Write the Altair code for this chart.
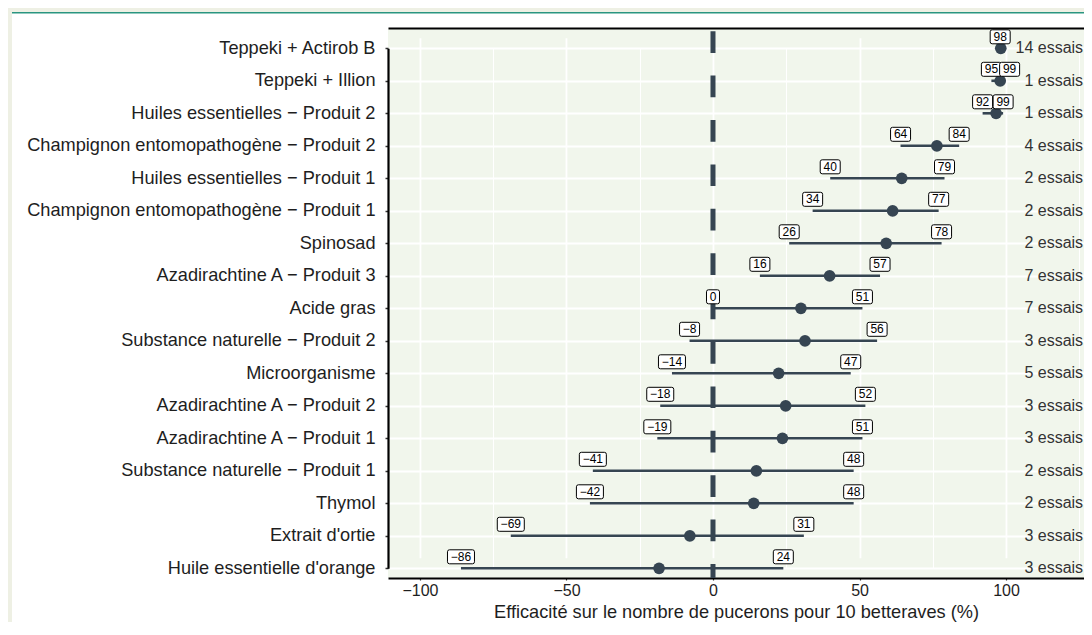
import altair as alt
import pandas as pd

traitements = [
    "Teppeki + Actirob B",
    "Teppeki + Illion",
    "Huiles essentielles − Produit 2",
    "Champignon entomopathogène − Produit 2",
    "Huiles essentielles − Produit 1",
    "Champignon entomopathogène − Produit 1",
    "Spinosad",
    "Azadirachtine A − Produit 3",
    "Acide gras",
    "Substance naturelle − Produit 2",
    "Microorganisme",
    "Azadirachtine A − Produit 2",
    "Azadirachtine A − Produit 1",
    "Substance naturelle − Produit 1",
    "Thymol",
    "Extrait d'ortie",
    "Huile essentielle d'orange",
]
moyenne = [98.2, 98.0, 96.6, 76.4, 64.4, 61.3, 59.1, 39.8, 30.0, 31.4, 22.4, 24.8, 23.7, 14.8, 13.9, -7.9, -18.4]
borne_basse = [98, 95, 92, 64, 40, 34, 26, 16, 0, -8, -14, -18, -19, -41, -42, -69, -86]
borne_haute = [98, 99, 99, 84, 79, 77, 78, 57, 51, 56, 47, 52, 51, 48, 48, 31, 24]
essais = [14, 1, 1, 4, 2, 2, 2, 7, 7, 3, 5, 3, 3, 2, 2, 3, 3]
x_ticks = [-100, -50, 0, 50, 100]
x_minor = [-75, -25, 25, 75, 125]
x_titre = "Efficacité sur le nombre de pucerons pour 10 betteraves (%)"

df = pd.DataFrame({
    "traitement": traitements,
    "moyenne": moyenne,
    "basse": borne_basse,
    "haute": borne_haute,
    "essais": essais,
})
zero_df = pd.DataFrame({"zero": [0]})

W, H = 696, 550
PL, PT, PB = 380, 20, 44
C = "#364552"
FONT = "Liberation Sans"
TXT = "#1e1e1e"

x_scale = alt.Scale(domain=[-110.9, 126.6], nice=False, zero=False)
y_enc = alt.Y(
    "traitement:N",
    sort=traitements,
    scale=alt.Scale(type="point", range=[20.3, 540.3], padding=0),
    title=None,
    axis=alt.Axis(
        domainColor="black", domainWidth=2.2,
        tickColor="#333333", tickSize=3, tickWidth=1.5,
        grid=True, gridColor="white", gridWidth=2,
        labelFont=FONT, labelFontSize=18.2, labelColor=TXT,
        labelPadding=10, labelLimit=500,
    ),
)


def box(h, v=7.0, r=2.0):
    return (f"M{-h + r},{-v}H{h - r}Q{h},{-v} {h},{-v + r}V{v - r}Q{h},{v} {h - r},{v}"
            f"H{-h + r}Q{-h},{v} {-h},{v - r}V{-v + r}Q{-h},{-v} {-h + r},{-v}Z")


base = alt.Chart(df)

barres = base.mark_rule(color=C, strokeWidth=2.6).encode(
    x=alt.X(
        "basse:Q", scale=x_scale, title=x_titre,
        axis=alt.Axis(
            orient="bottom", values=x_ticks, format="d",
            domainColor="black", domainWidth=2.2,
            tickColor="#333333", tickSize=2, tickWidth=1.2,
            grid=True, gridColor="white", gridWidth=1.8,
            labelFont=FONT, labelFontSize=16, labelColor=TXT, labelPadding=2,
            labelFlush=False,
            titleFont=FONT, titleFontSize=18.2, titleFontWeight="normal", titleColor=TXT,
            titleY=39, titleBaseline="alphabetic",
        ),
    ),
    x2="haute:Q",
    y=y_enc,
)

points = base.mark_circle(color=C, size=137, opacity=1).encode(
    x=alt.X(
        "moyenne:Q", scale=x_scale, title=None,
        axis=alt.Axis(
            orient="top", values=x_minor, labels=False, ticks=False,
            domainColor="black", domainWidth=2.0,
            grid=True, gridColor="white", gridWidth=1.1,
        ),
    ),
    y=y_enc,
)

zero = alt.Chart(zero_df).mark_rule(
    color=C, strokeWidth=5, strokeDash=[21.7, 22.7], strokeDashOffset=41.2
).encode(x=alt.X("zero:Q", scale=x_scale, axis=None))

etiq = base.transform_fold(["basse", "haute"], as_=["borne", "valeur"]).transform_calculate(
    label="format(datum.valeur, 'd')",
    w="'w' + length(format(datum.valeur, 'd'))",
    proche="datum.borne == 'haute' && datum.haute > datum.basse && datum.haute - datum.basse < 6",
    double="datum.borne == 'haute' && datum.haute == datum.basse",
)
etiq_std = etiq.transform_filter("!datum.proche && !datum.double")
etiq_dec = etiq.transform_filter("datum.proche")

shape_enc = alt.Shape(
    "w:N",
    scale=alt.Scale(domain=["w1", "w2", "w3"], range=[box(6.5), box(10), box(13.5)]),
    legend=None,
)
x_val = alt.X("valeur:Q", scale=x_scale, axis=None)


def boites_de(src, dx):
    return src.mark_point(
        filled=True, fill="white", stroke="black", strokeWidth=1, size=4, opacity=1,
        yOffset=-11.5, xOffset=dx,
    ).encode(x=x_val, y=y_enc, shape=shape_enc)


def textes_de(src, dx):
    return src.mark_text(
        font=FONT, fontSize=12, color="black", dy=-11.5, dx=dx, baseline="middle"
    ).encode(x=x_val, y=y_enc, text="label:N")


n_essais = base.transform_calculate(lab="datum.essais + ' essais'").mark_text(
    font=FONT, fontSize=16, color="#333333", align="right", baseline="middle"
).encode(
    x=alt.XDatum(126.3, scale=x_scale, axis=None),
    y=y_enc,
    text="lab:N",
)

deco = alt.Chart(pd.DataFrame({"a": [0]}))
bande_g = deco.mark_rect(color="#eef0e4").encode(
    x=alt.value(-PL), x2=alt.value(-PL + 4), y=alt.value(-PT), y2=alt.value(H + PB))
bande_h = deco.mark_rect(color="#eef0e4").encode(
    x=alt.value(-PL), x2=alt.value(W), y=alt.value(-PT), y2=alt.value(-PT + 4))
filet = deco.mark_rect(color="#2a9580").encode(
    x=alt.value(-PL + 4), x2=alt.value(W), y=alt.value(-PT + 4), y2=alt.value(-PT + 5.5))

chart = alt.layer(
    bande_g, bande_h, filet, barres, points, zero,
    boites_de(etiq_std, 0), textes_de(etiq_std, 0),
    boites_de(etiq_dec, 6.5), textes_de(etiq_dec, 6.5),
    n_essais,
).resolve_axis(x="independent").properties(
    width=W, height=H,
    autosize=alt.AutoSizeParams(type="none"),
    padding={"left": PL, "top": PT, "right": 0, "bottom": PB},
    background="white",
).configure_view(fill="#f1f6ec", stroke=None)

chart.save("out.html", embed_options={"renderer": "svg", "actions": False})
